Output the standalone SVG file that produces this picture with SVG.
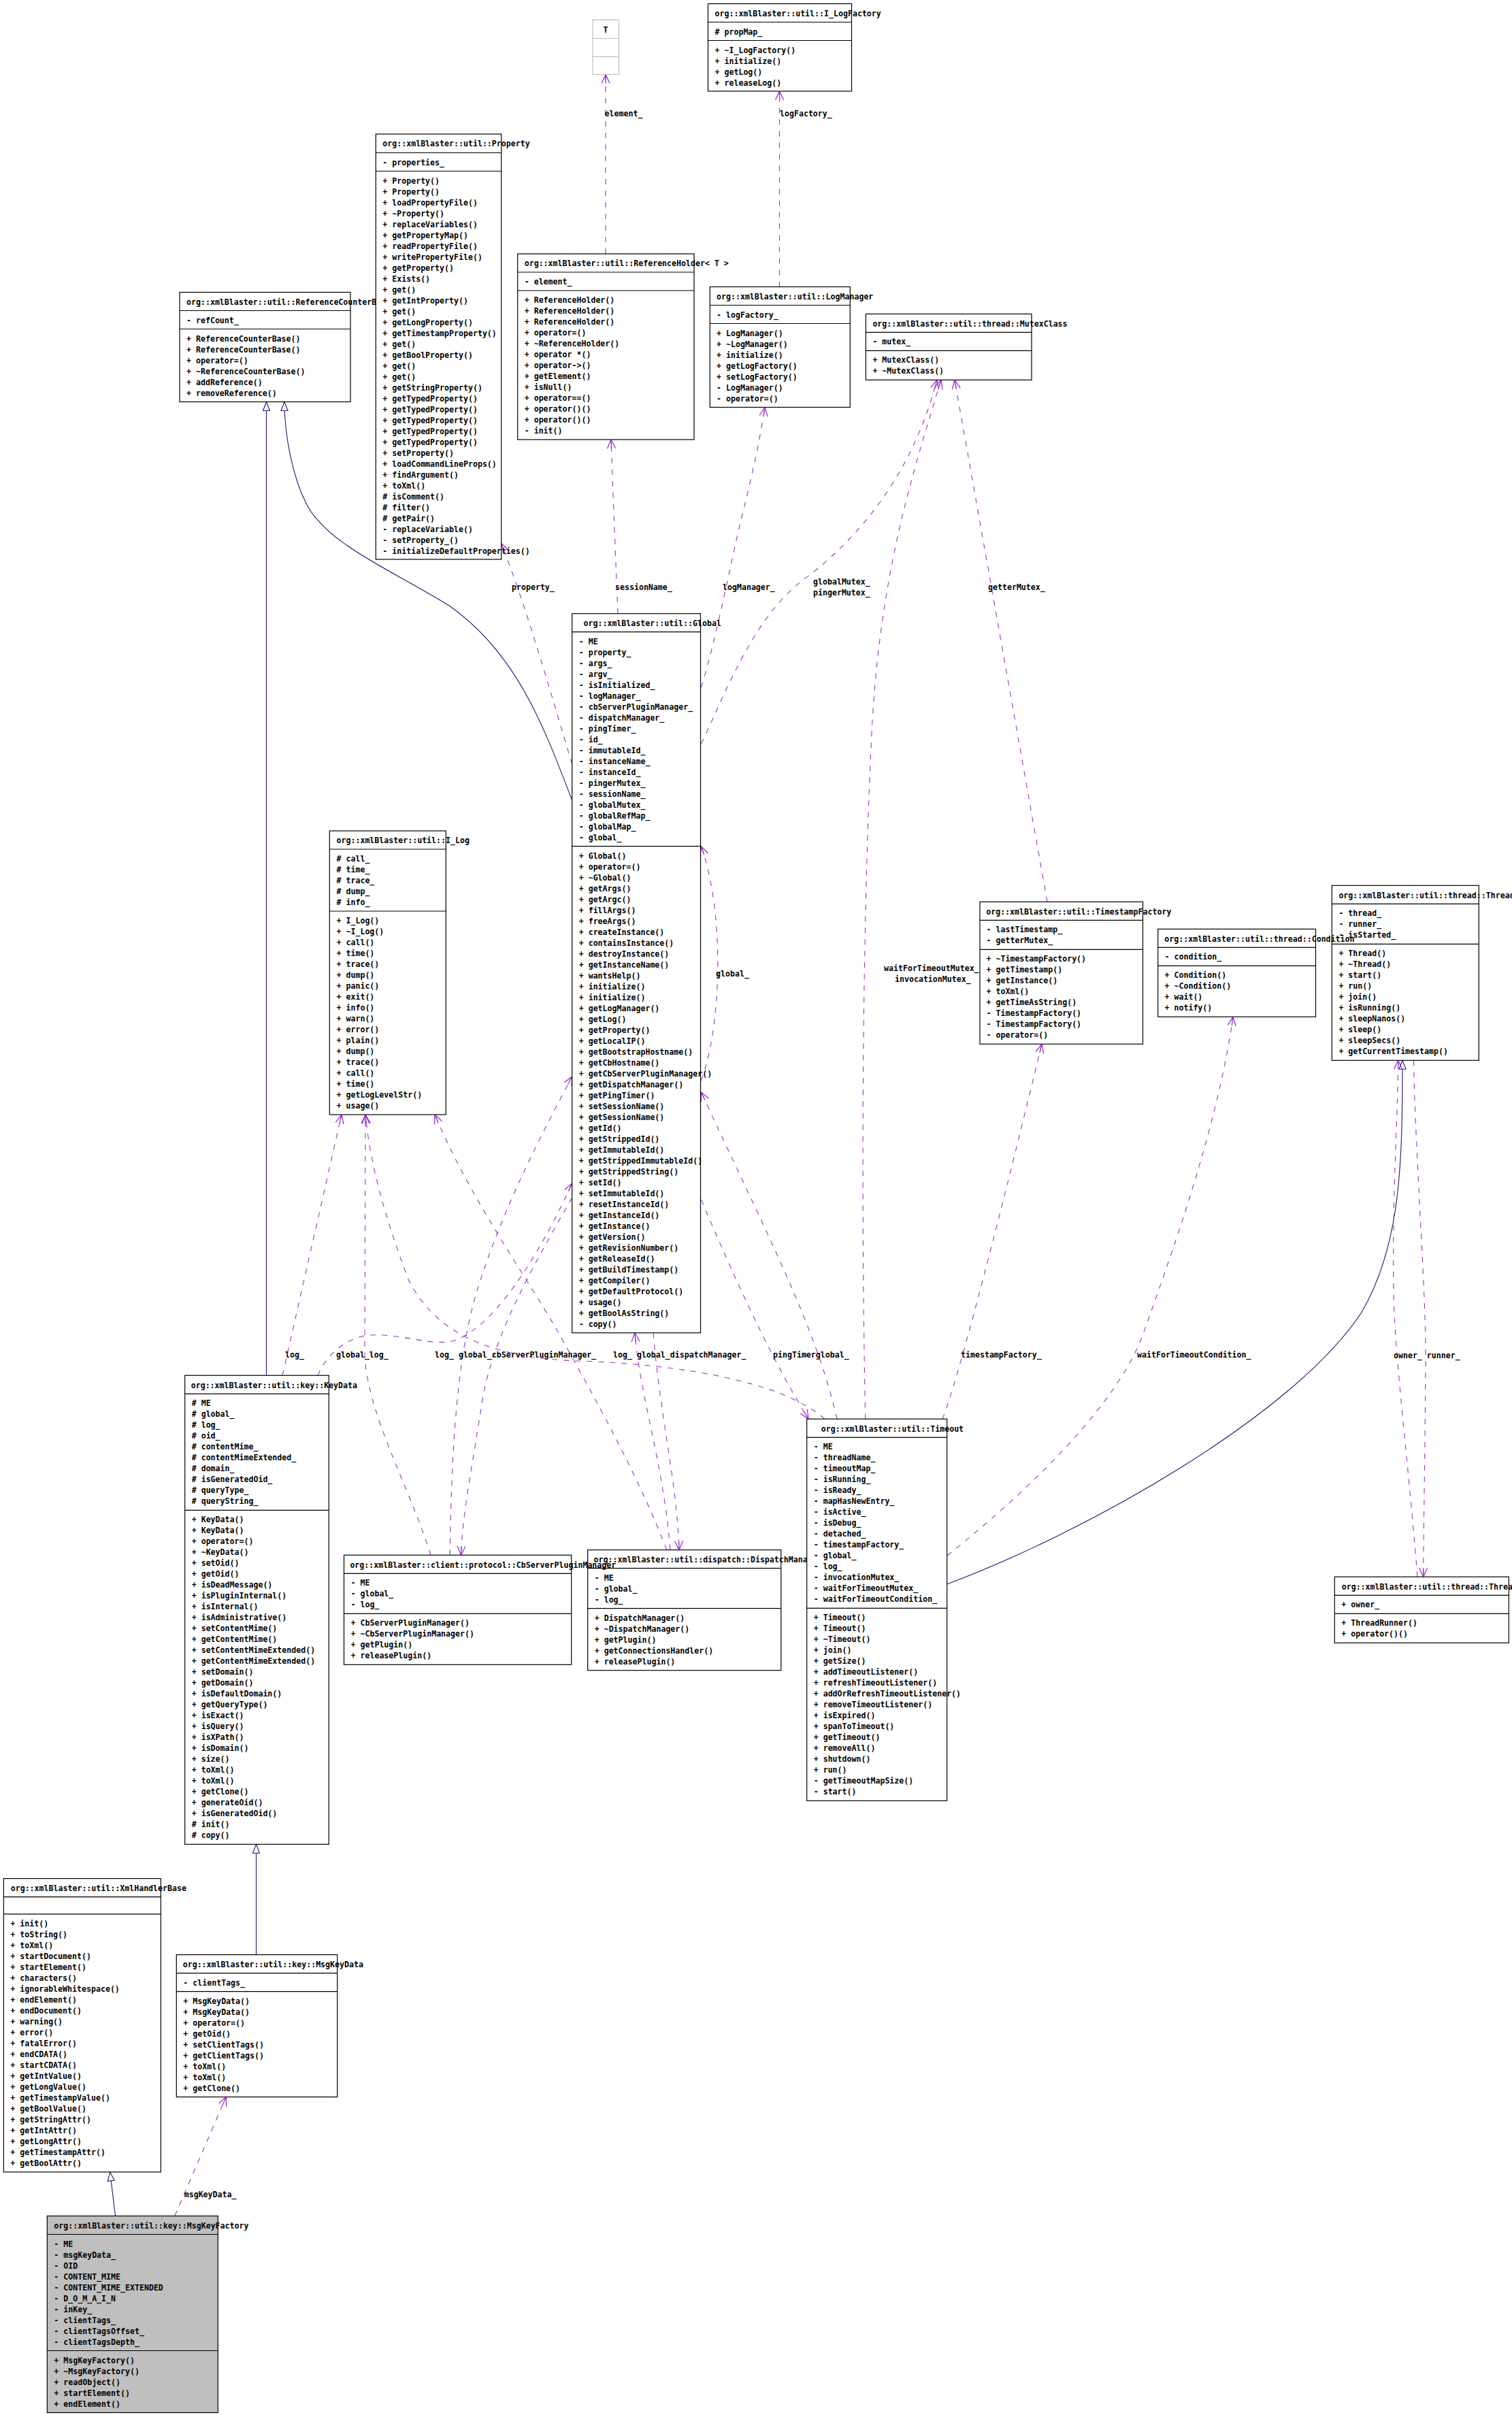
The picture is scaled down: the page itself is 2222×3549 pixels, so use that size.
<svg xmlns="http://www.w3.org/2000/svg" width="2222" height="3549" viewBox="0 0 2222 3549">
<style>
text{font-family:"DejaVu Sans Mono","Liberation Mono",monospace;font-size:11.6px;font-weight:bold;fill:#000}
.b{fill:#fff;stroke:#000;stroke-width:1.2}
.g{fill:#bfbfbf;stroke:#000;stroke-width:1.2}
.s{stroke:#000;stroke-width:1.2}
.e{fill:none;stroke:#9a32cd;stroke-width:1.1;stroke-dasharray:8,9;marker-end:url(#oa)}
.i{fill:none;stroke:#191970;stroke-width:1.1;marker-end:url(#tri)}
</style>
<defs>
<marker id="oa" markerUnits="userSpaceOnUse" markerWidth="16" markerHeight="14" refX="14" refY="7" orient="auto"><path d="M1,1 L14,7 L1,13 M1,7 L14,7" fill="none" stroke="#9a32cd" stroke-width="1.3"/></marker>
<marker id="tri" markerUnits="userSpaceOnUse" markerWidth="16" markerHeight="14" refX="14" refY="7" orient="auto"><path d="M1,2 L14,7 L1,12 Z" fill="#fff" stroke="#191970" stroke-width="1.1"/></marker>
</defs>
<rect width="2222" height="3549" fill="#fff"/>

<g id="edges">
<path class="i" d="M391.5,2021.3 L391.5,590.5"/>
<path class="i" d="M840.7,1176 C800,1070 760,960 660,890 C580,840 480,800 450,740 C430,700 418,640 418,590.5"/>
<path class="i" d="M376.5,2872.6 L376.5,2710.3"/>
<path class="i" d="M169.5,3256.5 L161.7,3191.9"/>
<path class="i" d="M1391.7,2328 C1600,2250 1900,2080 2000,1930 C2060,1830 2061,1700 2061,1558.3"/>

<path class="e" d="M890,373 L890,109.5"/>
<path class="e" d="M1145.5,421.5 L1145.5,134"/>
<path class="e" d="M840.7,1123 C810,1020 770,880 736,798"/>
<path class="e" d="M908,901.7 C905,830 900,700 898,646"/>
<path class="e" d="M1030.5,1010 C1055,930 1075,820 1090,760 C1105,700 1118,640 1124,598.5"/>
<path class="e" d="M1030.5,1093 C1070,1010 1110,900 1190,845 C1260,790 1340,700 1377,558.4"/>
<path class="e" d="M1539,1325.3 L1403,558.4"/>
<path class="e" d="M1271.7,2085.3 C1266,1800 1266,1400 1280,1100 C1290,850 1340,700 1383,558.4"/>
<path class="e" d="M1385,2085.3 Q1418,2000 1531,1534.3"/>
<path class="e" d="M1392,2286 C1500,2200 1640,2070 1680,1960 C1730,1820 1790,1650 1812,1494.3"/>
<path class="e" d="M2077.5,1558.3 C2080,1700 2096,1900 2095,2000 C2094,2150 2092,2250 2091.7,2317.3"/>
<path class="e" d="M2083,2317.3 C2070,2150 2050,2000 2048,1900 C2046,1750 2054,1650 2054.7,1558.3"/>
<path class="e" d="M256.7,3256.5 L332.3,3081.6"/>
<path class="e" d="M415,2021.3 L502,1638"/>
<path class="e" d="M467,2021.3 C480,1990 510,1965 543,1962 C590,1960 620,1975 660,1972 C720,1960 790,1850 840.7,1739"/>
<path class="e" d="M633,2285.3 C600,2180 540,2080 536,1990 L537,1638"/>
<path class="e" d="M661,2285.3 C664,2150 668,2010 700,1900 C740,1770 800,1660 840.7,1582"/>
<path class="e" d="M840.7,1760 C790,1850 730,1950 710,2050 C695,2150 680,2220 677.5,2285.3"/>
<path class="e" d="M980,2277.7 C930,2150 860,2030 821,1959 C770,1870 690,1760 639,1638"/>
<path class="e" d="M985,2277.7 C975,2150 940,2050 933,1958.7"/>
<path class="e" d="M960,1958.7 C970,2080 995,2180 998,2277.7"/>
<path class="e" d="M1212,2085.3 C1150,2030 1000,2005 850,2000 C720,1995 640,1960 600,1880 C570,1800 545,1720 537,1638"/>
<path class="e" d="M1230,2085.3 C1200,1950 1120,1800 1030.5,1605"/>
<path class="e" d="M1030.5,1763 C1080,1880 1130,1990 1188,2085.3"/>
<path class="e" d="M1030.5,1588 C1062,1500 1064,1340 1030.5,1243.7"/>

<text x="888.6" y="171">element_</text>
<text x="1146" y="171">logFactory_</text>
<text x="752" y="867">property_</text>
<text x="904" y="867">sessionName_</text>
<text x="1062" y="867">logManager_</text>
<text x="1195" y="859">globalMutex_</text>
<text x="1195" y="875">pingerMutex_</text>
<text x="1452" y="867">getterMutex_</text>
<text x="1052" y="1435">global_</text>
<text x="1299" y="1427">waitForTimeoutMutex_</text>
<text x="1315" y="1443">invocationMutex_</text>
<text x="419" y="1995">log_</text>
<text x="494" y="1995">global_log_</text>
<text x="639" y="1995">log_ global_cbServerPluginManager_</text>
<text x="901" y="1995">log_ global_dispatchManager_</text>
<text x="1136" y="1995">pingTimerglobal_</text>
<text x="1412" y="1995">timestampFactory_</text>
<text x="1671" y="1995">waitForTimeoutCondition_</text>
<text x="2048" y="1996">owner_ runner_</text>
<text x="270.7" y="3229">msgKeyData_</text>
</g>

<g id="node_T">
<rect x="871" y="29" width="38.5" height="80.5" fill="#fff" stroke="#bfbfbf" stroke-width="1.2"/>
<path d="M871,56.5 H909.5 M871,83.4 H909.5" stroke="#bfbfbf" stroke-width="1.2"/>
<text x="890" y="47.5" text-anchor="middle">T</text>
</g>

<g id="node_I_LogFactory">
<rect class="b" x="1040.5" y="5.5" width="211" height="128.5"/>
<path class="s" d="M1040.5,32.5 H1251.5 M1040.5,59.5 H1251.5"/>
<text x="1050.5" y="24">org::xmlBlaster::util::I_LogFactory</text>
<text x="1050.5" y="51"># propMap_</text>
<text><tspan x="1050.5" y="77.5">+ ~I_LogFactory()</tspan><tspan x="1050.5" dy="16">+ initialize()</tspan><tspan x="1050.5" dy="16">+ getLog()</tspan><tspan x="1050.5" dy="16">+ releaseLog()</tspan></text>
</g>

<g id="node_ReferenceHolder">
<rect class="b" x="760.7" y="373" width="259.3" height="273"/>
<path class="s" d="M760.7,400 H1020 M760.7,427 H1020"/>
<text x="770.7" y="391.3">org::xmlBlaster::util::ReferenceHolder&lt; T &gt;</text>
<text x="770.7" y="418">- element_</text>
<text><tspan x="770.7" y="445">+ ReferenceHolder()</tspan><tspan x="770.7" dy="16">+ ReferenceHolder()</tspan><tspan x="770.7" dy="16">+ ReferenceHolder()</tspan><tspan x="770.7" dy="16">+ operator=()</tspan><tspan x="770.7" dy="16">+ ~ReferenceHolder()</tspan><tspan x="770.7" dy="16">+ operator *()</tspan><tspan x="770.7" dy="16">+ operator-&gt;()</tspan><tspan x="770.7" dy="16">+ getElement()</tspan><tspan x="770.7" dy="16">+ isNull()</tspan><tspan x="770.7" dy="16">+ operator==()</tspan><tspan x="770.7" dy="16">+ operator()()</tspan><tspan x="770.7" dy="16">+ operator()()</tspan><tspan x="770.7" dy="16">- init()</tspan></text>
</g>

<g id="node_ReferenceCounterBase">
<rect class="b" x="264" y="429.5" width="251" height="161"/>
<path class="s" d="M264,456.5 H515 M264,483.5 H515"/>
<text x="274" y="447.8">org::xmlBlaster::util::ReferenceCounterBase</text>
<text x="274" y="474.5">- refCount_</text>
<text><tspan x="274" y="501.5">+ ReferenceCounterBase()</tspan><tspan x="274" dy="16">+ ReferenceCounterBase()</tspan><tspan x="274" dy="16">+ operator=()</tspan><tspan x="274" dy="16">+ ~ReferenceCounterBase()</tspan><tspan x="274" dy="16">+ addReference()</tspan><tspan x="274" dy="16">+ removeReference()</tspan></text>
</g>

<g id="node_Property">
<rect class="b" x="552.3" y="197" width="184.4" height="625"/>
<path class="s" d="M552.3,224.5 H736.7 M552.3,251.5 H736.7"/>
<text x="562.3" y="215.3">org::xmlBlaster::util::Property</text>
<text x="562.3" y="242.5">- properties_</text>
<text><tspan x="562.3" y="269.5">+ Property()</tspan><tspan x="562.3" dy="16">+ Property()</tspan><tspan x="562.3" dy="16">+ loadPropertyFile()</tspan><tspan x="562.3" dy="16">+ ~Property()</tspan><tspan x="562.3" dy="16">+ replaceVariables()</tspan><tspan x="562.3" dy="16">+ getPropertyMap()</tspan><tspan x="562.3" dy="16">+ readPropertyFile()</tspan><tspan x="562.3" dy="16">+ writePropertyFile()</tspan><tspan x="562.3" dy="16">+ getProperty()</tspan><tspan x="562.3" dy="16">+ Exists()</tspan><tspan x="562.3" dy="16">+ get()</tspan><tspan x="562.3" dy="16">+ getIntProperty()</tspan><tspan x="562.3" dy="16">+ get()</tspan><tspan x="562.3" dy="16">+ getLongProperty()</tspan><tspan x="562.3" dy="16">+ getTimestampProperty()</tspan><tspan x="562.3" dy="16">+ get()</tspan><tspan x="562.3" dy="16">+ getBoolProperty()</tspan><tspan x="562.3" dy="16">+ get()</tspan><tspan x="562.3" dy="16">+ get()</tspan><tspan x="562.3" dy="16">+ getStringProperty()</tspan><tspan x="562.3" dy="16">+ getTypedProperty()</tspan><tspan x="562.3" dy="16">+ getTypedProperty()</tspan><tspan x="562.3" dy="16">+ getTypedProperty()</tspan><tspan x="562.3" dy="16">+ getTypedProperty()</tspan><tspan x="562.3" dy="16">+ getTypedProperty()</tspan><tspan x="562.3" dy="16">+ setProperty()</tspan><tspan x="562.3" dy="16">+ loadCommandLineProps()</tspan><tspan x="562.3" dy="16">+ findArgument()</tspan><tspan x="562.3" dy="16">+ toXml()</tspan><tspan x="562.3" dy="16"># isComment()</tspan><tspan x="562.3" dy="16"># filter()</tspan><tspan x="562.3" dy="16"># getPair()</tspan><tspan x="562.3" dy="16">- replaceVariable()</tspan><tspan x="562.3" dy="16">- setProperty_()</tspan><tspan x="562.3" dy="16">- initializeDefaultProperties()</tspan></text>
</g>

<g id="node_LogManager">
<rect class="b" x="1043.3" y="421.5" width="206" height="177"/>
<path class="s" d="M1043.3,448.5 H1249.3 M1043.3,475.5 H1249.3"/>
<text x="1053" y="439.8">org::xmlBlaster::util::LogManager</text>
<text x="1053" y="466.5">- logFactory_</text>
<text><tspan x="1053" y="493.5">+ LogManager()</tspan><tspan x="1053" dy="16">+ ~LogManager()</tspan><tspan x="1053" dy="16">+ initialize()</tspan><tspan x="1053" dy="16">+ getLogFactory()</tspan><tspan x="1053" dy="16">+ setLogFactory()</tspan><tspan x="1053" dy="16">- LogManager()</tspan><tspan x="1053" dy="16">- operator=()</tspan></text>
</g>

<g id="node_MutexClass">
<rect class="b" x="1272.4" y="461.4" width="243.6" height="97"/>
<path class="s" d="M1272.4,488.4 H1516 M1272.4,515.4 H1516"/>
<text x="1282.4" y="479.7">org::xmlBlaster::util::thread::MutexClass</text>
<text x="1282.4" y="506.4">- mutex_</text>
<text><tspan x="1282.4" y="533.4">+ MutexClass()</tspan><tspan x="1282.4" dy="16">+ ~MutexClass()</tspan></text>
</g>

<g id="node_Global">
<rect class="b" x="840.7" y="901.7" width="188.8" height="1057"/>
<path class="s" d="M840.7,928.7 H1029.5 M840.7,1243.7 H1029.5"/>
<text x="857.5" y="920">org::xmlBlaster::util::Global</text>
<text><tspan x="850.7" y="946.7">- ME</tspan><tspan x="850.7" dy="16">- property_</tspan><tspan x="850.7" dy="16">- args_</tspan><tspan x="850.7" dy="16">- argv_</tspan><tspan x="850.7" dy="16">- isInitialized_</tspan><tspan x="850.7" dy="16">- logManager_</tspan><tspan x="850.7" dy="16">- cbServerPluginManager_</tspan><tspan x="850.7" dy="16">- dispatchManager_</tspan><tspan x="850.7" dy="16">- pingTimer_</tspan><tspan x="850.7" dy="16">- id_</tspan><tspan x="850.7" dy="16">- immutableId_</tspan><tspan x="850.7" dy="16">- instanceName_</tspan><tspan x="850.7" dy="16">- instanceId_</tspan><tspan x="850.7" dy="16">- pingerMutex_</tspan><tspan x="850.7" dy="16">- sessionName_</tspan><tspan x="850.7" dy="16">- globalMutex_</tspan><tspan x="850.7" dy="16">- globalRefMap_</tspan><tspan x="850.7" dy="16">- globalMap_</tspan><tspan x="850.7" dy="16">- global_</tspan></text>
<text><tspan x="850.7" y="1261.7">+ Global()</tspan><tspan x="850.7" dy="16">+ operator=()</tspan><tspan x="850.7" dy="16">+ ~Global()</tspan><tspan x="850.7" dy="16">+ getArgs()</tspan><tspan x="850.7" dy="16">+ getArgc()</tspan><tspan x="850.7" dy="16">+ fillArgs()</tspan><tspan x="850.7" dy="16">+ freeArgs()</tspan><tspan x="850.7" dy="16">+ createInstance()</tspan><tspan x="850.7" dy="16">+ containsInstance()</tspan><tspan x="850.7" dy="16">+ destroyInstance()</tspan><tspan x="850.7" dy="16">+ getInstanceName()</tspan><tspan x="850.7" dy="16">+ wantsHelp()</tspan><tspan x="850.7" dy="16">+ initialize()</tspan><tspan x="850.7" dy="16">+ initialize()</tspan><tspan x="850.7" dy="16">+ getLogManager()</tspan><tspan x="850.7" dy="16">+ getLog()</tspan><tspan x="850.7" dy="16">+ getProperty()</tspan><tspan x="850.7" dy="16">+ getLocalIP()</tspan><tspan x="850.7" dy="16">+ getBootstrapHostname()</tspan><tspan x="850.7" dy="16">+ getCbHostname()</tspan><tspan x="850.7" dy="16">+ getCbServerPluginManager()</tspan><tspan x="850.7" dy="16">+ getDispatchManager()</tspan><tspan x="850.7" dy="16">+ getPingTimer()</tspan><tspan x="850.7" dy="16">+ setSessionName()</tspan><tspan x="850.7" dy="16">+ getSessionName()</tspan><tspan x="850.7" dy="16">+ getId()</tspan><tspan x="850.7" dy="16">+ getStrippedId()</tspan><tspan x="850.7" dy="16">+ getImmutableId()</tspan><tspan x="850.7" dy="16">+ getStrippedImmutableId()</tspan><tspan x="850.7" dy="16">+ getStrippedString()</tspan><tspan x="850.7" dy="16">+ setId()</tspan><tspan x="850.7" dy="16">+ setImmutableId()</tspan><tspan x="850.7" dy="16">+ resetInstanceId()</tspan><tspan x="850.7" dy="16">+ getInstanceId()</tspan><tspan x="850.7" dy="16">+ getInstance()</tspan><tspan x="850.7" dy="16">+ getVersion()</tspan><tspan x="850.7" dy="16">+ getRevisionNumber()</tspan><tspan x="850.7" dy="16">+ getReleaseId()</tspan><tspan x="850.7" dy="16">+ getBuildTimestamp()</tspan><tspan x="850.7" dy="16">+ getCompiler()</tspan><tspan x="850.7" dy="16">+ getDefaultProtocol()</tspan><tspan x="850.7" dy="16">+ usage()</tspan><tspan x="850.7" dy="16">+ getBoolAsString()</tspan><tspan x="850.7" dy="16">- copy()</tspan></text>
</g>

<g id="node_I_Log">
<rect class="b" x="484.3" y="1221" width="171" height="417"/>
<path class="s" d="M484.3,1248 H655.3 M484.3,1339 H655.3"/>
<text x="494.5" y="1239.3">org::xmlBlaster::util::I_Log</text>
<text><tspan x="494.5" y="1266"># call_</tspan><tspan x="494.5" dy="16"># time_</tspan><tspan x="494.5" dy="16"># trace_</tspan><tspan x="494.5" dy="16"># dump_</tspan><tspan x="494.5" dy="16"># info_</tspan></text>
<text><tspan x="494.5" y="1357">+ I_Log()</tspan><tspan x="494.5" dy="16">+ ~I_Log()</tspan><tspan x="494.5" dy="16">+ call()</tspan><tspan x="494.5" dy="16">+ time()</tspan><tspan x="494.5" dy="16">+ trace()</tspan><tspan x="494.5" dy="16">+ dump()</tspan><tspan x="494.5" dy="16">+ panic()</tspan><tspan x="494.5" dy="16">+ exit()</tspan><tspan x="494.5" dy="16">+ info()</tspan><tspan x="494.5" dy="16">+ warn()</tspan><tspan x="494.5" dy="16">+ error()</tspan><tspan x="494.5" dy="16">+ plain()</tspan><tspan x="494.5" dy="16">+ dump()</tspan><tspan x="494.5" dy="16">+ trace()</tspan><tspan x="494.5" dy="16">+ call()</tspan><tspan x="494.5" dy="16">+ time()</tspan><tspan x="494.5" dy="16">+ getLogLevelStr()</tspan><tspan x="494.5" dy="16">+ usage()</tspan></text>
</g>

<g id="node_TimestampFactory">
<rect class="b" x="1440" y="1325.3" width="239.5" height="209"/>
<path class="s" d="M1440,1352.3 H1679.5 M1440,1395.3 H1679.5"/>
<text x="1449.2" y="1343.6">org::xmlBlaster::util::TimestampFactory</text>
<text><tspan x="1449.5" y="1370.3">- lastTimestamp_</tspan><tspan x="1449.5" dy="16">- getterMutex_</tspan></text>
<text><tspan x="1449.5" y="1413.3">+ ~TimestampFactory()</tspan><tspan x="1449.5" dy="16">+ getTimestamp()</tspan><tspan x="1449.5" dy="16">+ getInstance()</tspan><tspan x="1449.5" dy="16">+ toXml()</tspan><tspan x="1449.5" dy="16">+ getTimeAsString()</tspan><tspan x="1449.5" dy="16">- TimestampFactory()</tspan><tspan x="1449.5" dy="16">- TimestampFactory()</tspan><tspan x="1449.5" dy="16">- operator=()</tspan></text>
</g>

<g id="node_Thread">
<rect class="b" x="1957.3" y="1301.3" width="216" height="257"/>
<path class="s" d="M1957.3,1328.3 H2173.3 M1957.3,1387.3 H2173.3"/>
<text x="1967.4" y="1319.6">org::xmlBlaster::util::thread::Thread</text>
<text><tspan x="1967.4" y="1346.3">- thread_</tspan><tspan x="1967.4" dy="16">- runner_</tspan><tspan x="1967.4" dy="16">- isStarted_</tspan></text>
<text><tspan x="1967.4" y="1405.3">+ Thread()</tspan><tspan x="1967.4" dy="16">+ ~Thread()</tspan><tspan x="1967.4" dy="16">+ start()</tspan><tspan x="1967.4" dy="16">+ run()</tspan><tspan x="1967.4" dy="16">+ join()</tspan><tspan x="1967.4" dy="16">+ isRunning()</tspan><tspan x="1967.4" dy="16">+ sleepNanos()</tspan><tspan x="1967.4" dy="16">+ sleep()</tspan><tspan x="1967.4" dy="16">+ sleepSecs()</tspan><tspan x="1967.4" dy="16">+ getCurrentTimestamp()</tspan></text>
</g>

<g id="node_Condition">
<rect class="b" x="1701.7" y="1365.3" width="231.8" height="129"/>
<path class="s" d="M1701.7,1392.3 H1933.5 M1701.7,1419.3 H1933.5"/>
<text x="1711.3" y="1383.6">org::xmlBlaster::util::thread::Condition</text>
<text x="1711.5" y="1410.3">- condition_</text>
<text><tspan x="1711.5" y="1437.3">+ Condition()</tspan><tspan x="1711.5" dy="16">+ ~Condition()</tspan><tspan x="1711.5" dy="16">+ wait()</tspan><tspan x="1711.5" dy="16">+ notify()</tspan></text>
</g>

<g id="node_KeyData">
<rect class="b" x="271.7" y="2021.3" width="211.6" height="689"/>
<path class="s" d="M271.7,2048.3 H483.3 M271.7,2219.3 H483.3"/>
<text x="280.7" y="2039.6">org::xmlBlaster::util::key::KeyData</text>
<text><tspan x="281.7" y="2066.3"># ME</tspan><tspan x="281.7" dy="16"># global_</tspan><tspan x="281.7" dy="16"># log_</tspan><tspan x="281.7" dy="16"># oid_</tspan><tspan x="281.7" dy="16"># contentMime_</tspan><tspan x="281.7" dy="16"># contentMimeExtended_</tspan><tspan x="281.7" dy="16"># domain_</tspan><tspan x="281.7" dy="16"># isGeneratedOid_</tspan><tspan x="281.7" dy="16"># queryType_</tspan><tspan x="281.7" dy="16"># queryString_</tspan></text>
<text><tspan x="281.7" y="2237.3">+ KeyData()</tspan><tspan x="281.7" dy="16">+ KeyData()</tspan><tspan x="281.7" dy="16">+ operator=()</tspan><tspan x="281.7" dy="16">+ ~KeyData()</tspan><tspan x="281.7" dy="16">+ setOid()</tspan><tspan x="281.7" dy="16">+ getOid()</tspan><tspan x="281.7" dy="16">+ isDeadMessage()</tspan><tspan x="281.7" dy="16">+ isPluginInternal()</tspan><tspan x="281.7" dy="16">+ isInternal()</tspan><tspan x="281.7" dy="16">+ isAdministrative()</tspan><tspan x="281.7" dy="16">+ setContentMime()</tspan><tspan x="281.7" dy="16">+ getContentMime()</tspan><tspan x="281.7" dy="16">+ setContentMimeExtended()</tspan><tspan x="281.7" dy="16">+ getContentMimeExtended()</tspan><tspan x="281.7" dy="16">+ setDomain()</tspan><tspan x="281.7" dy="16">+ getDomain()</tspan><tspan x="281.7" dy="16">+ isDefaultDomain()</tspan><tspan x="281.7" dy="16">+ getQueryType()</tspan><tspan x="281.7" dy="16">+ isExact()</tspan><tspan x="281.7" dy="16">+ isQuery()</tspan><tspan x="281.7" dy="16">+ isXPath()</tspan><tspan x="281.7" dy="16">+ isDomain()</tspan><tspan x="281.7" dy="16">+ size()</tspan><tspan x="281.7" dy="16">+ toXml()</tspan><tspan x="281.7" dy="16">+ toXml()</tspan><tspan x="281.7" dy="16">+ getClone()</tspan><tspan x="281.7" dy="16">+ generateOid()</tspan><tspan x="281.7" dy="16">+ isGeneratedOid()</tspan><tspan x="281.7" dy="16"># init()</tspan><tspan x="281.7" dy="16"># copy()</tspan></text>
</g>

<g id="node_DispatchManager">
<rect class="b" x="863.7" y="2277.7" width="284.1" height="177"/>
<path class="s" d="M863.7,2304.7 H1147.8 M863.7,2363.7 H1147.8"/>
<text x="872.6" y="2296">org::xmlBlaster::util::dispatch::DispatchManager</text>
<text><tspan x="873.7" y="2322.7">- ME</tspan><tspan x="873.7" dy="16">- global_</tspan><tspan x="873.7" dy="16">- log_</tspan></text>
<text><tspan x="873.7" y="2381.7">+ DispatchManager()</tspan><tspan x="873.7" dy="16">+ ~DispatchManager()</tspan><tspan x="873.7" dy="16">+ getPlugin()</tspan><tspan x="873.7" dy="16">+ getConnectionsHandler()</tspan><tspan x="873.7" dy="16">+ releasePlugin()</tspan></text>
</g>

<g id="node_CbServerPluginManager">
<rect class="b" x="505.5" y="2285.3" width="334.2" height="161"/>
<path class="s" d="M505.5,2312.3 H839.7 M505.5,2371.3 H839.7"/>
<text x="514.4" y="2303.6">org::xmlBlaster::client::protocol::CbServerPluginManager</text>
<text><tspan x="515.5" y="2330.3">- ME</tspan><tspan x="515.5" dy="16">- global_</tspan><tspan x="515.5" dy="16">- log_</tspan></text>
<text><tspan x="515.5" y="2389.3">+ CbServerPluginManager()</tspan><tspan x="515.5" dy="16">+ ~CbServerPluginManager()</tspan><tspan x="515.5" dy="16">+ getPlugin()</tspan><tspan x="515.5" dy="16">+ releasePlugin()</tspan></text>
</g>

<g id="node_Timeout">
<rect class="b" x="1185.7" y="2085.3" width="206" height="561"/>
<path class="s" d="M1185.7,2112.3 H1391.7 M1185.7,2363.3 H1391.7"/>
<text x="1206.7" y="2103.6">org::xmlBlaster::util::Timeout</text>
<text><tspan x="1195.7" y="2130.3">- ME</tspan><tspan x="1195.7" dy="16">- threadName_</tspan><tspan x="1195.7" dy="16">- timeoutMap_</tspan><tspan x="1195.7" dy="16">- isRunning_</tspan><tspan x="1195.7" dy="16">- isReady_</tspan><tspan x="1195.7" dy="16">- mapHasNewEntry_</tspan><tspan x="1195.7" dy="16">- isActive_</tspan><tspan x="1195.7" dy="16">- isDebug_</tspan><tspan x="1195.7" dy="16">- detached_</tspan><tspan x="1195.7" dy="16">- timestampFactory_</tspan><tspan x="1195.7" dy="16">- global_</tspan><tspan x="1195.7" dy="16">- log_</tspan><tspan x="1195.7" dy="16">- invocationMutex_</tspan><tspan x="1195.7" dy="16">- waitForTimeoutMutex_</tspan><tspan x="1195.7" dy="16">- waitForTimeoutCondition_</tspan></text>
<text><tspan x="1195.7" y="2381.3">+ Timeout()</tspan><tspan x="1195.7" dy="16">+ Timeout()</tspan><tspan x="1195.7" dy="16">+ ~Timeout()</tspan><tspan x="1195.7" dy="16">+ join()</tspan><tspan x="1195.7" dy="16">+ getSize()</tspan><tspan x="1195.7" dy="16">+ addTimeoutListener()</tspan><tspan x="1195.7" dy="16">+ refreshTimeoutListener()</tspan><tspan x="1195.7" dy="16">+ addOrRefreshTimeoutListener()</tspan><tspan x="1195.7" dy="16">+ removeTimeoutListener()</tspan><tspan x="1195.7" dy="16">+ isExpired()</tspan><tspan x="1195.7" dy="16">+ spanToTimeout()</tspan><tspan x="1195.7" dy="16">+ getTimeout()</tspan><tspan x="1195.7" dy="16">+ removeAll()</tspan><tspan x="1195.7" dy="16">+ shutdown()</tspan><tspan x="1195.7" dy="16">+ run()</tspan><tspan x="1195.7" dy="16">- getTimeoutMapSize()</tspan><tspan x="1195.7" dy="16">- start()</tspan></text>
</g>

<g id="node_ThreadRunner">
<rect class="b" x="1961.3" y="2317.3" width="256" height="97"/>
<path class="s" d="M1961.3,2344.3 H2217.3 M1961.3,2371.3 H2217.3"/>
<text x="1971.7" y="2335.6">org::xmlBlaster::util::thread::ThreadRunner</text>
<text x="1971.3" y="2362.3">+ owner_</text>
<text><tspan x="1971.3" y="2389.3">+ ThreadRunner()</tspan><tspan x="1971.3" dy="16">+ operator()()</tspan></text>
</g>

<g id="node_XmlHandlerBase">
<rect class="b" x="5.3" y="2760.6" width="231" height="431.3"/>
<path class="s" d="M5.3,2787.6 H236.3 M5.3,2812.9 H236.3"/>
<text x="15.7" y="2778.9">org::xmlBlaster::util::XmlHandlerBase</text>
<text><tspan x="15.3" y="2830.9">+ init()</tspan><tspan x="15.3" dy="16">+ toString()</tspan><tspan x="15.3" dy="16">+ toXml()</tspan><tspan x="15.3" dy="16">+ startDocument()</tspan><tspan x="15.3" dy="16">+ startElement()</tspan><tspan x="15.3" dy="16">+ characters()</tspan><tspan x="15.3" dy="16">+ ignorableWhitespace()</tspan><tspan x="15.3" dy="16">+ endElement()</tspan><tspan x="15.3" dy="16">+ endDocument()</tspan><tspan x="15.3" dy="16">+ warning()</tspan><tspan x="15.3" dy="16">+ error()</tspan><tspan x="15.3" dy="16">+ fatalError()</tspan><tspan x="15.3" dy="16">+ endCDATA()</tspan><tspan x="15.3" dy="16">+ startCDATA()</tspan><tspan x="15.3" dy="16">+ getIntValue()</tspan><tspan x="15.3" dy="16">+ getLongValue()</tspan><tspan x="15.3" dy="16">+ getTimestampValue()</tspan><tspan x="15.3" dy="16">+ getBoolValue()</tspan><tspan x="15.3" dy="16">+ getStringAttr()</tspan><tspan x="15.3" dy="16">+ getIntAttr()</tspan><tspan x="15.3" dy="16">+ getLongAttr()</tspan><tspan x="15.3" dy="16">+ getTimestampAttr()</tspan><tspan x="15.3" dy="16">+ getBoolAttr()</tspan></text>
</g>

<g id="node_MsgKeyData">
<rect class="b" x="259.3" y="2872.6" width="236.4" height="209"/>
<path class="s" d="M259.3,2899.6 H495.7 M259.3,2926.6 H495.7"/>
<text x="268.7" y="2890.9">org::xmlBlaster::util::key::MsgKeyData</text>
<text x="269.3" y="2917.6">- clientTags_</text>
<text><tspan x="269.3" y="2944.6">+ MsgKeyData()</tspan><tspan x="269.3" dy="16">+ MsgKeyData()</tspan><tspan x="269.3" dy="16">+ operator=()</tspan><tspan x="269.3" dy="16">+ getOid()</tspan><tspan x="269.3" dy="16">+ setClientTags()</tspan><tspan x="269.3" dy="16">+ getClientTags()</tspan><tspan x="269.3" dy="16">+ toXml()</tspan><tspan x="269.3" dy="16">+ toXml()</tspan><tspan x="269.3" dy="16">+ getClone()</tspan></text>
</g>

<g id="node_MsgKeyFactory">
<rect class="g" x="69.3" y="3256.5" width="251" height="289"/>
<path class="s" d="M69.3,3283.5 H320.3 M69.3,3454.5 H320.3"/>
<text x="79.3" y="3274.8">org::xmlBlaster::util::key::MsgKeyFactory</text>
<text><tspan x="79.3" y="3301.5">- ME</tspan><tspan x="79.3" dy="16">- msgKeyData_</tspan><tspan x="79.3" dy="16">- OID</tspan><tspan x="79.3" dy="16">- CONTENT_MIME</tspan><tspan x="79.3" dy="16">- CONTENT_MIME_EXTENDED</tspan><tspan x="79.3" dy="16">- D_O_M_A_I_N</tspan><tspan x="79.3" dy="16">- inKey_</tspan><tspan x="79.3" dy="16">- clientTags_</tspan><tspan x="79.3" dy="16">- clientTagsOffset_</tspan><tspan x="79.3" dy="16">- clientTagsDepth_</tspan></text>
<text><tspan x="79.3" y="3472.5">+ MsgKeyFactory()</tspan><tspan x="79.3" dy="16">+ ~MsgKeyFactory()</tspan><tspan x="79.3" dy="16">+ readObject()</tspan><tspan x="79.3" dy="16">+ startElement()</tspan><tspan x="79.3" dy="16">+ endElement()</tspan></text>
</g>
</svg>
